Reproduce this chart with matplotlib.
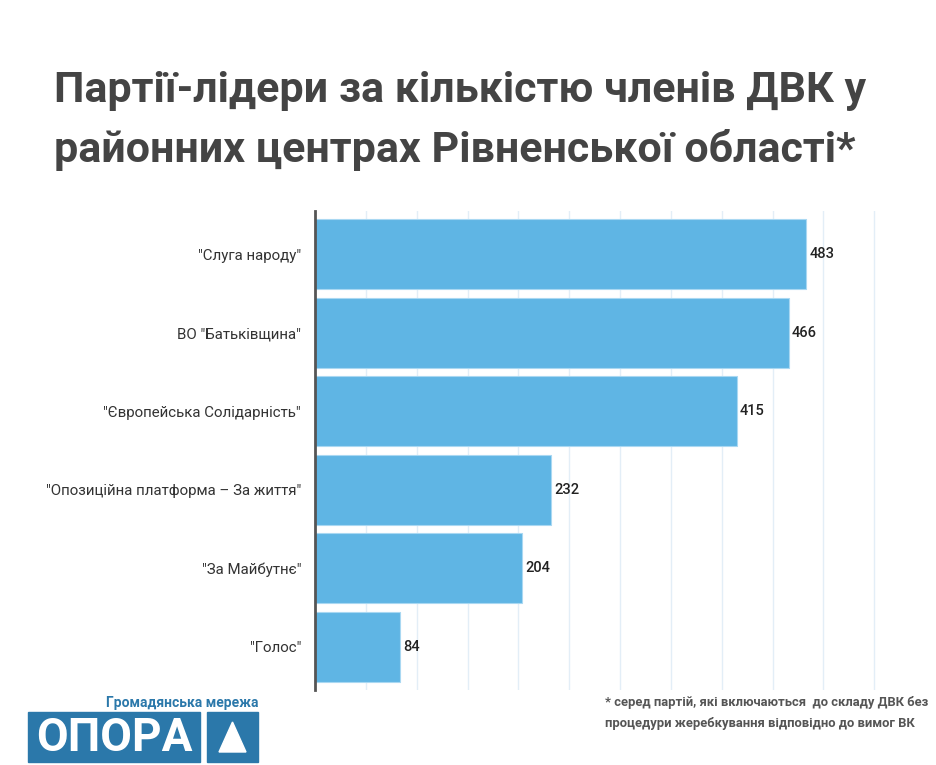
import matplotlib
matplotlib.use("Agg")
import matplotlib.pyplot as plt
from matplotlib.patches import Rectangle, Polygon

# data
parties = ['"Слуга народу"', 'ВО "Батьківщина"', '"Європейська Солідарність"',
           '"Опозиційна платформа – За життя"', '"За Майбутнє"', '"Голос"']
members = [483, 466, 415, 232, 204, 84]

title = "Партії-лідери за кількістю членів ДВК у\nрайонних центрах Рівненської області*"
note = ("* серед партій, які включаються  до складу ДВК без\n"
        "процедури жеребкування відповідно до вимог ВК")

BAR = "#5fb5e4"
BLUE = "#2b78aa"
NARROW = ["Liberation Sans Narrow", "Roboto", "DejaVu Sans"]

plt.rcParams["font.family"] = ["Roboto", "DejaVu Sans"]

fig = plt.figure(figsize=(9.36, 7.65), dpi=100)
ax = fig.add_axes([0.3365, 0.098, 0.603, 0.626])

y = list(range(len(parties)))
ax.barh(y, members, height=0.89, color=BAR, edgecolor="#a9d8f2", linewidth=0.8, zorder=2)
for yi, v in zip(y, members):
    ax.text(v + 3, yi, str(v), va="center", ha="left", fontsize=10.5,
            fontweight="medium", color="#222222")

ax.set_yticks(y)
ax.set_yticklabels(parties, fontsize=10.8, color="#333333")
ax.set_ylim(len(parties) - 0.45, -0.55)
ax.set_xlim(0, 555)
ax.set_xticks(range(50, 551, 50))
ax.tick_params(axis="x", length=0, labelbottom=False)
ax.tick_params(axis="y", length=0, pad=10)
ax.grid(axis="x", color="#e3eef7", linewidth=1, zorder=0)
for s in ["top", "right", "bottom"]:
    ax.spines[s].set_visible(False)
ax.spines["left"].set_color("#555555")
ax.spines["left"].set_linewidth(2)
ax.spines["left"].set_zorder(3)

fig.text(0.058, 0.843, title, fontsize=31, fontweight="bold", color="#444444",
         family=NARROW, ha="left", va="center", linespacing=1.55)

fig.text(0.646, 0.068, note, fontsize=9.4, fontweight="bold", color="#555555",
         family=NARROW, ha="left", va="center", linespacing=1.75)

# OPORA logo
fig.text(0.276, 0.081, "Громадянська мережа", fontsize=10, fontweight="bold",
         color=BLUE, family=NARROW, ha="right", va="center")
fig.patches.append(Rectangle((28 / 936, 3 / 765), 172 / 936, 50 / 765,
                             transform=fig.transFigure, color=BLUE, figure=fig))
fig.patches.append(Rectangle((207 / 936, 3 / 765), 51 / 936, 50 / 765,
                             transform=fig.transFigure, color=BLUE, figure=fig))
fig.patches.append(Polygon([(219 / 936, 13 / 765), (246 / 936, 13 / 765), (232.5 / 936, 43 / 765)],
                           closed=True, transform=fig.transFigure, color="white", figure=fig))
fig.text(114 / 936, 27 / 765, "ОПОРА", fontsize=33, fontweight="bold", color="white",
         family=NARROW, ha="center", va="center")

fig.savefig("out.png", dpi=100, facecolor="white")
